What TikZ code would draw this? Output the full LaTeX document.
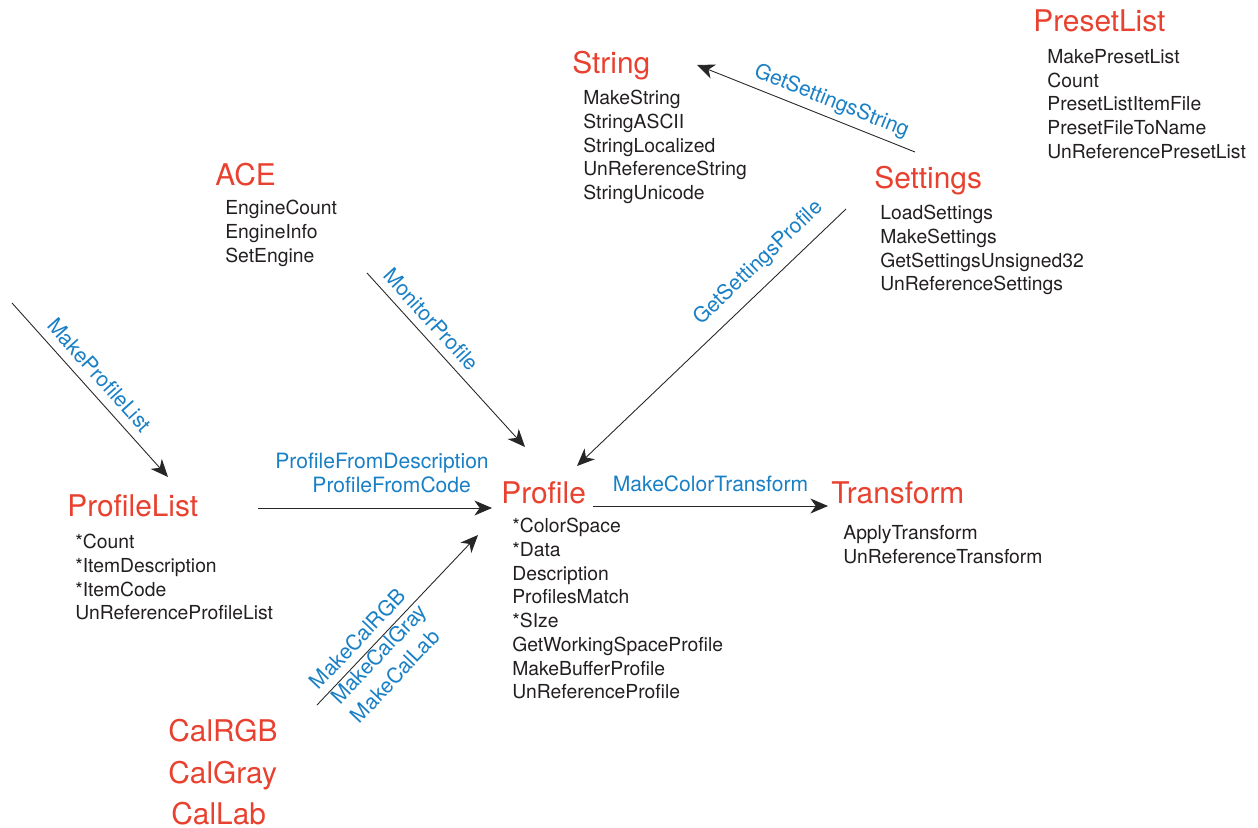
\documentclass[tikz,border=0pt]{standalone}
\usepackage{fontspec}
\setmainfont{TeX Gyre Heros}
\usetikzlibrary{positioning,arrows.meta}
\definecolor{titlered}{HTML}{E8412F}
\definecolor{callblue}{HTML}{1A80C6}
\definecolor{itemblack}{HTML}{231F20}
\tikzset{
  title/.style={text=titlered,font=\fontsize{17}{20}\selectfont,inner sep=0pt,anchor=base west},
  items/.style={text=itemblack,font=\fontsize{11}{13.5}\selectfont,align=left,inner sep=0pt,anchor=north west},
  call/.style={text=callblue,font=\fontsize{12}{13.6}\selectfont,inner sep=0pt},
  conn/.style={draw=black!85,line width=0.5pt,-{Stealth[length=10pt,width=8.5pt,inset=3pt]}}
}

\begin{document}
\begin{tikzpicture}[x=0.02cm,y=-0.02cm]
\useasboundingbox (0,0) rectangle (1258,828);

\node[title] (presetlist) at (1033,32) {PresetList};
\node[items] (presetlist-fns) at (1047,49) {MakePresetList\\Count\\PresetListItemFile\\PresetFileToName\\UnReferencePresetList};

\node[title] (string) at (572,74) {String};
\node[items] (string-fns) at (583,90) {MakeString\\StringASCII\\StringLocalized\\UnReferenceString\\StringUnicode};

\node[title] (ace) at (215,185) {ACE};
\node[items] (ace-fns) at (225,200) {EngineCount\\EngineInfo\\SetEngine};

\node[title] (settings) at (874,189) {Settings};
\node[items] (settings-fns) at (880,205) {LoadSettings\\MakeSettings\\GetSettingsUnsigned32\\UnReferenceSettings};

\node[title] (profilelist) at (67,516) {ProfileList};
\node[items] (profilelist-fns) at (75,534) {*Count\\*ItemDescription\\*ItemCode\\UnReferenceProfileList};

\node[title] (profile) at (501,503) {Profile};
\node[items] (profile-fns) at (512,518) {*ColorSpace\\*Data\\Description\\ProfilesMatch\\*SIze\\GetWorkingSpaceProfile\\MakeBufferProfile\\UnReferenceProfile};

\node[title] (transform) at (831,503) {Transform};
\node[items] (transform-fns) at (843,525) {ApplyTransform\\UnReferenceTransform};

\node[title] (calrgb) at (168,741) {CalRGB};
\node[title] (calgray) at (168,783) {CalGray};
\node[title] (callab) at (171,824) {CalLab};

\coordinate (mpl-from) at (12,303);
\coordinate (mpl-to) at (168,477);
\coordinate (mon-from) at (367,273);
\coordinate (mon-to) at (525,447);
\coordinate (gsp-from) at (846,209);
\coordinate (gsp-to) at (577,466);
\coordinate (gss-from) at (915,152);
\coordinate (gss-to) at (697,65);
\coordinate (pfd-from) at (258,508);
\coordinate (pfd-to) at (492,508);
\coordinate (mct-from) at (593,506);
\coordinate (mct-to) at (828,506);
\coordinate (cal-from) at (317,705);
\coordinate (cal-to) at (478,535);

\draw[conn] (mpl-from) -- node[call,sloped,above=5pt,pos=.48] (mpl-lbl) {MakeProfileList} (mpl-to);
\draw[conn] (mon-from) -- node[call,sloped,above=4.7pt,pos=.33] (mon-lbl) {MonitorProfile} (mon-to);
\draw[conn] (gsp-from) -- node[call,sloped,above=6pt,pos=.27] (gsp-lbl) {GetSettingsProfile} (gsp-to);
\draw[conn] (gss-from) -- node[call,sloped,above=3pt,pos=.41] (gss-lbl) {GetSettingsString} (gss-to);
\draw[conn] (pfd-from) -- node[call,above=8.5pt,pos=.53,align=center] (pfd-lbl) {ProfileFromDescription\\\hspace*{11pt}ProfileFromCode} (pfd-to);
\draw[conn] (mct-from) -- node[call,above=8pt,pos=.5] (mct-lbl) {MakeColorTransform} (mct-to);
\draw[conn] (cal-from) -- node[call,sloped,above=4.5pt,pos=.325] (cal-lbl) {MakeCalRGB}
  node[call,sloped,below=0.5pt,pos=.34,align=left,font=\fontsize{12}{15.5}\selectfont] (cal-lbl2) {MakeCalGray\\MakeCalLab} (cal-to);

\end{tikzpicture}
\end{document}
